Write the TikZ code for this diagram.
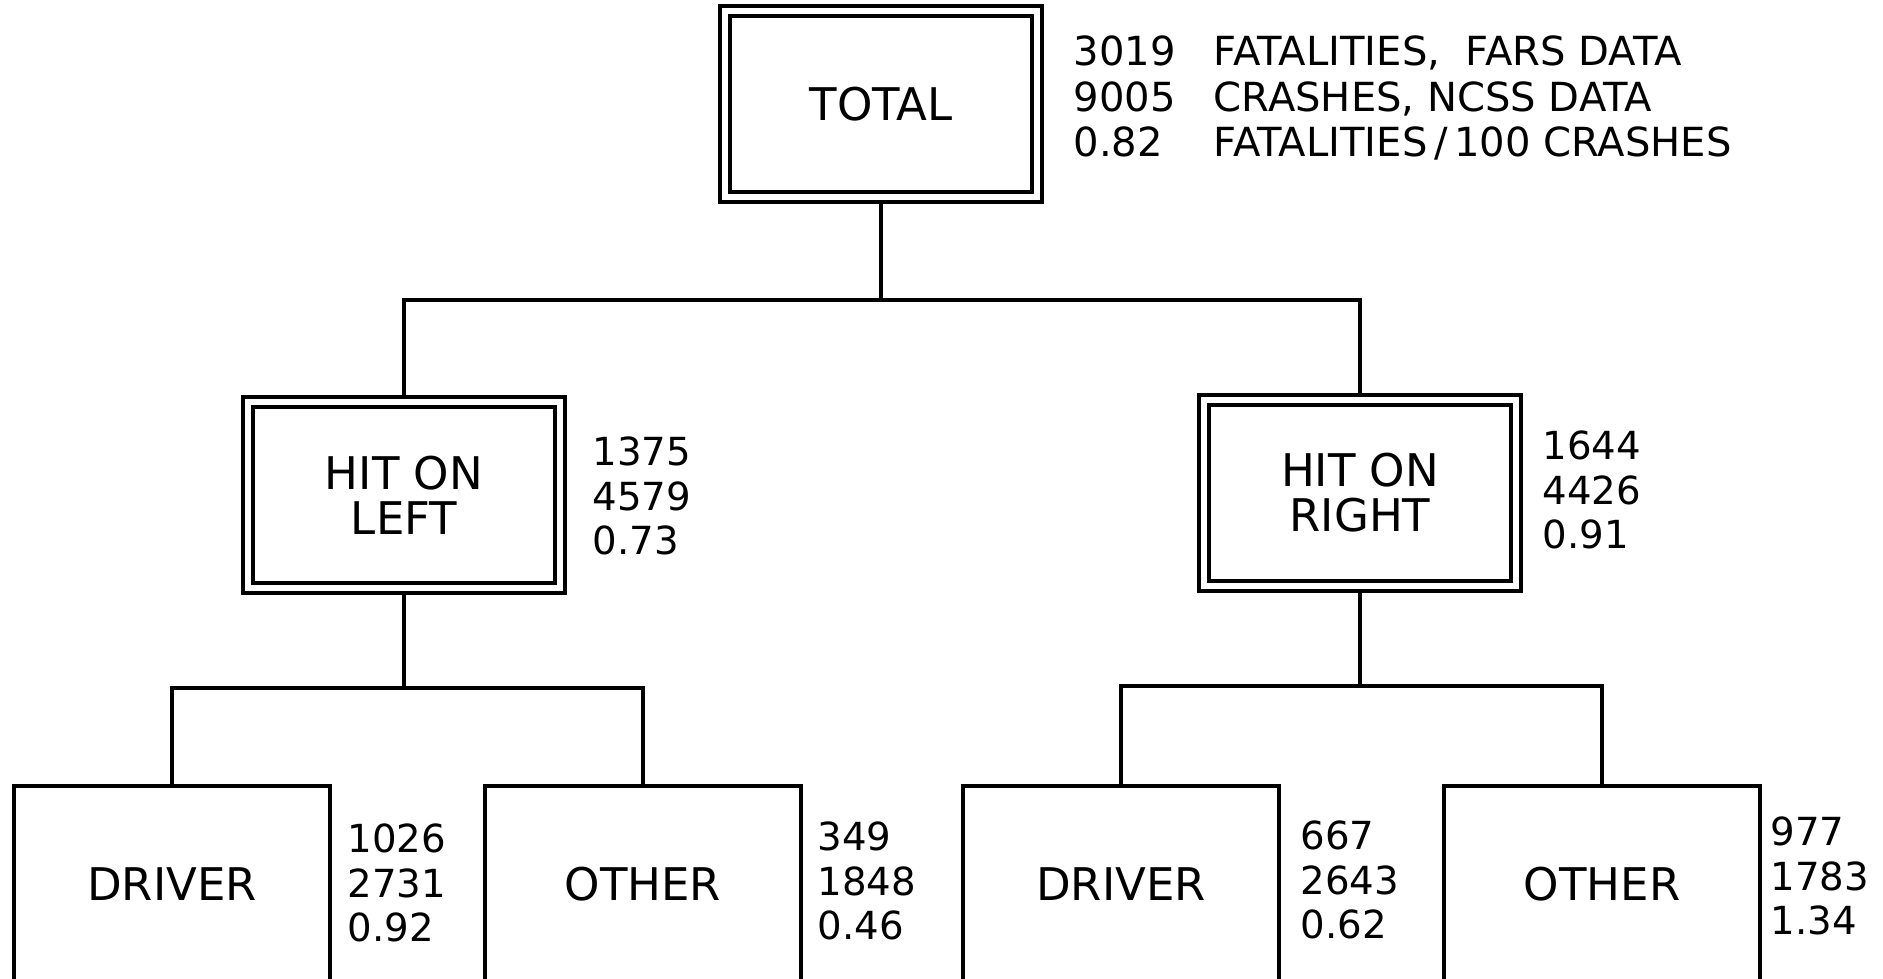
\documentclass[tikz,border=0pt]{standalone}
\usepackage{fontspec}
\setmainfont{DejaVu Sans}
\usetikzlibrary{positioning, backgrounds}

\begin{document}
\begin{tikzpicture}[
    x=0.01cm, y=-0.01cm,
    dblbox/.style={rectangle, draw=black, line width=0.35mm, double, double distance=0.65mm,
                   minimum width=3.12cm, minimum height=1.86cm, align=center,
                   font=\fontsize{12.8}{12.8}\selectfont},
    leafbox/.style={rectangle, draw=black, line width=0.35mm,
                    minimum width=3.16cm, minimum height=1.96cm,
                    font=\fontsize{12.8}{13}\selectfont},
    stats/.style={anchor=west, align=left, inner sep=0pt,
                  font=\fontsize{11}{12.7}\selectfont},
    link/.style={line width=0.35mm}
]
\useasboundingbox (0,0) rectangle (1883,978);
\clip (0,0) rectangle (1883,978);
%% top level
\node[dblbox] (total) at (881,104) {TOTAL};
\node[stats, font=\fontsize{11.4}{13}\selectfont] (totalnums) at (1073,102)
    {\begin{tabular}{@{}p{14.0mm}@{}l@{}}
     3019 & FATALITIES, \ FARS DATA\\
     9005 & CRASHES, NCSS DATA\\
     0.82 & FATALITIES\,/\,100 CRASHES
     \end{tabular}};
%% side of impact
\node[dblbox] (hitleft) at (404,495) {HIT ON\\LEFT};
\node[stats] (leftnums) at (592,496) {1375\\4579\\0.73};
\node[dblbox] (hitright) at (1360,493) {HIT ON\\RIGHT};
\node[stats] (rightnums) at (1542,490) {1644\\4426\\0.91};
%% occupant position (boxes run off the bottom)
\node[leafbox] (drvleft) at (172,884) {DRIVER};
\node[stats] (drvleftnums) at (347,883) {1026\\2731\\0.92};
\node[leafbox] (othleft) at (643,884) {OTHER};
\node[stats] (othleftnums) at (817,881) {349\\1848\\0.46};
\node[leafbox] (drvright) at (1121,884) {DRIVER};
\node[stats] (drvrightnums) at (1300,880) {667\\2643\\0.62};
\node[leafbox] (othright) at (1602,884) {OTHER};
\node[stats] (othrightnums) at (1770,876) {977\\1783\\1.34};
%% tree lines, behind the double borders
\begin{scope}[on background layer]
\draw[link] (total.south) -- ++(0,101) coordinate (topj);
\draw[link] (hitleft.north) |- (topj) -| (hitright.north);
\draw[link] (hitleft.south) -- ++(0,98) coordinate (leftj);
\draw[link] (drvleft.north) |- (leftj) -| (othleft.north);
\draw[link] (hitright.south) -- ++(0,98) coordinate (rightj);
\draw[link] (drvright.north) |- (rightj) -| (othright.north);
\end{scope}
\end{tikzpicture}
\end{document}
